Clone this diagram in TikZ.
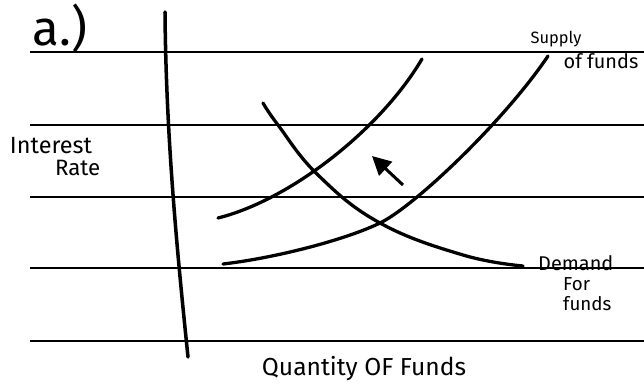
\documentclass[tikz,border=0pt]{standalone}
\usepackage{fontspec}
\setmainfont{Fira Sans}
\usetikzlibrary{positioning,arrows.meta}

\begin{document}
\begin{tikzpicture}[x=0.3mm, y=-0.3mm,
    riga/.style={line width=1.8pt},
    asse/.style={line width=3pt, line cap=round},
    curva/.style={line width=2.8pt, line cap=round},
    scritta/.style={inner sep=0pt, font=\fontsize{#1}{#1}\selectfont},
    scritta/.default=16]
    \useasboundingbox (0,0) rectangle (644,385);

    % righe del foglio
    \foreach \y in {52,125,197,268} {
        \draw[riga] (30,\y) -- (644,\y);
    }
    \draw[riga, line width=2.4pt] (30,341) -- (644,341);

    \coordinate (ytop) at (165,12);
    \coordinate (ybot) at (188,357);
    \draw[asse] (ytop) .. controls (166,140) and (178,260) .. (ybot);

    % curve di offerta e domanda
    \coordinate (s1a) at (218,218);
    \coordinate (s1b) at (422,59);
    \coordinate (s2a) at (223,264);
    \coordinate (s2m) at (380,223);
    \coordinate (s2b) at (548,56);
    \coordinate (da) at (263,103);
    \coordinate (db) at (523,266);

    \draw[curva] (s1a) .. controls (290,200) and (380,130) .. (s1b);
    \draw[curva] (s2a) .. controls (275,258) and (345,240) .. (s2m)
                       .. controls (415,206) and (505,120) .. (s2b);
    \draw[curva] plot[smooth, tension=0.7] coordinates {(da) (278,125) (318,175) (s2m) (463,255) (db)};

    \coordinate (fcoda) at (403,185);
    \coordinate (fpunta) at (372,156);
    \draw[line width=2.6pt, -{Triangle[length=16pt, width=16pt]}] (fcoda) -- (fpunta);

    \node[scritta=42] (lettera) at (60,28) {a.)};

    \node[scritta=20] (interesse) at (51,146) {Interest};
    \node[scritta=19, below=1.5mm of interesse, xshift=8mm] (tasso) {Rate};

    \node[scritta=14] (offerta) at (556,39) {Supply};
    \node[scritta=17, below=1.8mm of offerta, xshift=13.5mm] (difondi) {of funds};

    \node[scritta=17, right=4.5mm of db, yshift=1mm] (domanda) {Demand};
    \node[scritta, below=2mm of domanda.south west, anchor=north west, xshift=7.5mm] (per) {For};
    \node[scritta, below=1.5mm of per.south west, anchor=north west] (fondi) {funds};

    \node[scritta=21] (quantita) at (364,369) {Quantity OF Funds};
\end{tikzpicture}
\end{document}
